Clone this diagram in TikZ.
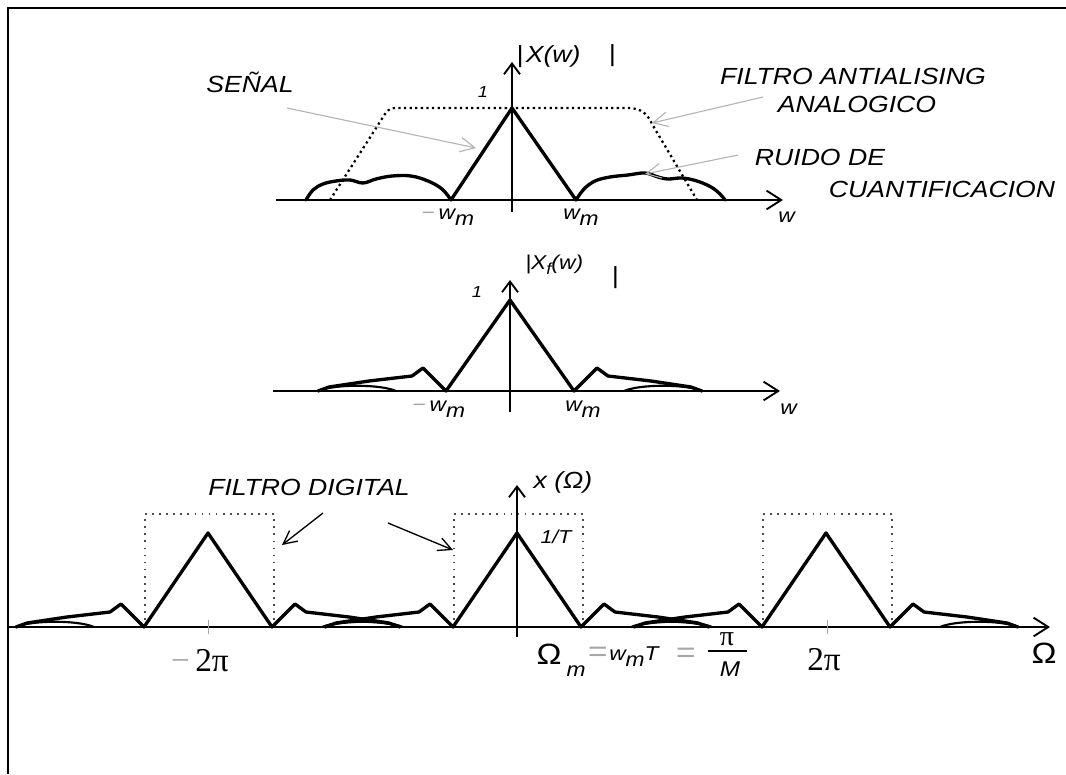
\documentclass[tikz,border=0pt]{standalone}
\usepackage{fontspec}
\setmainfont{Liberation Sans}[FakeStretch=1.14]
\newfontfamily\serifpi{Liberation Serif}
\usetikzlibrary{arrows.meta}

\tikzset{
  eje/.style={line width=1.5pt,-{Straight Barb[length=11pt,width=14pt,line width=1.4pt]}},
  ejev/.style={line width=1.5pt,-{Straight Barb[length=8pt,width=12pt,line width=1.4pt]}},
  curva/.style={line width=2.5pt,line join=round,line cap=round},
  punteado/.style={line width=1.7pt,dash pattern=on 1.7pt off 2.5pt},
  punteadorect/.style={draw=black!70,line width=1.3pt,dash pattern=on 1.3pt off 4pt},
  flechagris/.style={draw=gray!60,line width=0.8pt,-{Straight Barb[length=11pt,width=11pt,line width=0.8pt]}},
  flechanegra/.style={line width=1pt,-{Straight Barb[length=10pt,width=10pt,line width=1pt]}},
  rotulo/.style={font=\itshape\fontsize{17.5}{21}\selectfont,inner sep=0pt},
  medio/.style={font=\itshape\fontsize{15}{18}\selectfont,inner sep=0pt},
  chico/.style={font=\itshape\fontsize{12}{14}\selectfont,inner sep=0pt},
  numero/.style={font=\serifpi\fontsize{25}{28}\selectfont,inner sep=0pt},
  tic/.style={draw=gray!70,line width=0.6pt}
}
\newcommand{\wm}{w\raisebox{-4.5pt}{m}}
\newcommand{\menos}{\textcolor{gray!70}{\char"2212}}
% triangulo con lobulos laterales, origen en el eje
\newcommand{\espectro}[1]{%
  \draw[curva] (-192,0) -- (-181,-4) -- (-141,-10) -- (-98,-15) -- (-87,-23) -- (-64,0)
    -- (0,-#1) -- (64,0) -- (87,-23) -- (98,-15) -- (141,-10) -- (181,-4) -- (192,0);
  \draw[line width=1.6pt] (-192,0) .. controls (-176,-7) and (-130,-7) .. (-114,0);
  \draw[line width=1.6pt] (192,0) .. controls (176,-7) and (130,-7) .. (114,0);
}

\begin{document}
\begin{tikzpicture}[x=0.75pt,y=-0.75pt]
\useasboundingbox (0,0) rectangle (1066,774);
\fill[white] (0,0) rectangle (1066,774);
\draw[line width=2.2pt] (8,774) -- (8,8) -- (1066,8);

%% |X(w)|
\draw[eje] (276,200) -- (783,200);
\draw[ejev] (512,212) -- (512,62);
\draw[punteado] (330,200) -- (385,114) .. controls (390,108) .. (400,108) -- (628,108)
  .. controls (642,108) and (648,115) .. (652,124) -- (697,200);
\draw[curva] plot[smooth,tension=0.6] coordinates {(306,200) (313,190) (323,184) (336,181)
  (350,180) (363,183) (376,179) (392,176) (411,176) (428,181) (442,189) (451,200)};
\draw[curva] plot[smooth,tension=0.6] coordinates {(576,200) (584,189) (595,181) (610,177)
  (628,175) (645,173) (658,177) (668,179) (682,178) (697,181) (711,187) (720,194) (725,200)};
\draw[curva] (451,200) -- (512,108) -- (576,200);

\node[chico] (uno1) at (483,92) {1};
\node[rotulo,anchor=west] (modx) at (516,57) {|\hspace{2pt}X(w)};
\node[rotulo] (barra1) at (612,56) {|};
\node[medio,anchor=base west] (mwm1) at (421,219) {\menos\hspace{3pt}\wm};
\node[medio,anchor=base west] (wm1) at (563,219) {\wm};
\node[medio,anchor=base west] (w1) at (778,222) {w};

\node[rotulo] (senal) at (250,82) {SEÑAL};
\node[rotulo] (filtroaa) at (853,76) {FILTRO ANTIALISING};
\node[rotulo] (analog) at (857,104) {ANALOGICO};
\node[rotulo] (ruido) at (820,157) {RUIDO DE};
\node[rotulo] (cuant) at (942,189) {CUANTIFICACION};
\coordinate (senalini) at (287,108);
\coordinate (senalfin) at (476,148);
\coordinate (filtroini) at (763,97);
\coordinate (filtrofin) at (652,123);
\coordinate (ruidoini) at (738,155);
\coordinate (ruidofin) at (645,174);
\draw[flechagris] (senalini) -- (senalfin);
\draw[flechagris] (filtroini) -- (filtrofin);
\draw[flechagris] (ruidoini) -- (ruidofin);

%% |X_f(w)|
\draw[eje] (273,391) -- (780,391);
\draw[ejev] (510,412) -- (510,280);
\begin{scope}[shift={(510,391)}]
  \espectro{91}
\end{scope}
\node[chico] (uno2) at (477,292) {1};
\node[medio,anchor=west] (modxf) at (525,265) {|X\raisebox{-4pt}{\fontsize{12}{12}\selectfont f}(w)};
\node[rotulo] (barra2) at (615,278) {|};
\node[medio,anchor=base west] (mwm2) at (412,411) {\menos\hspace{3pt}\wm};
\node[medio,anchor=base west] (wm2) at (565,411) {\wm};
\node[medio,anchor=base west] (w2) at (780,414) {w};

%% x(Omega)
\draw[eje] (8,627) -- (1050,627);
\draw[ejev] (517,637) -- (517,485);
\foreach \c in {208,517,826}{
  \draw[punteadorect] (\c-63,627) -- (\c-63,514) -- (\c+66,514) -- (\c+66,627);
  \begin{scope}[shift={(\c,627)}]
    \espectro{94}
  \end{scope}
}
\draw[tic] (208,620) -- (208,634);
\draw[tic] (827,620) -- (827,634);

\node[rotulo] (fdig) at (309,487) {FILTRO DIGITAL};
\coordinate (fdig1) at (323,513);
\coordinate (fdig1fin) at (282,545);
\coordinate (fdig2) at (388,523);
\coordinate (fdig2fin) at (453,550);
\draw[flechanegra] (fdig1) -- (fdig1fin);
\draw[flechanegra] (fdig2) -- (fdig2fin);

\node[rotulo] (xom) at (563,482) {x (Ω)};
\node[chico,font=\itshape\fontsize{14}{16}\selectfont] (unoT) at (556,537) {1/T};

\node[numero] (m2pi) at (200,661) {\textcolor{gray!70}{\char"2212}\hspace{4pt}2π};
\node[numero] (p2pi) at (824,660) {2π};

\node[font=\fontsize{22}{24}\selectfont,inner sep=0pt] (omm) at (549,654) {Ω};
\node[medio] (sub) at (576,671) {m};
\node[font=\fontsize{22}{24}\selectfont,text=gray!70,inner sep=0pt] (ig1) at (598,654) {=};
\node[medio,anchor=base west] (wmt) at (609,660) {\wm T};
\node[font=\fontsize{22}{24}\selectfont,text=gray!70,inner sep=0pt] (ig2) at (686,655) {=};
\node[numero,font=\serifpi\fontsize{21}{24}\selectfont] (pinum) at (727,639) {π};
\node[rotulo,font=\itshape\fontsize{16}{18}\selectfont] (mden) at (730,669) {M};
\draw[line width=1pt] (708,651) -- (747,651);
\node[font=\fontsize{22}{24}\selectfont,inner sep=0pt] (omfin) at (1044,653) {Ω};
\end{tikzpicture}
\end{document}
